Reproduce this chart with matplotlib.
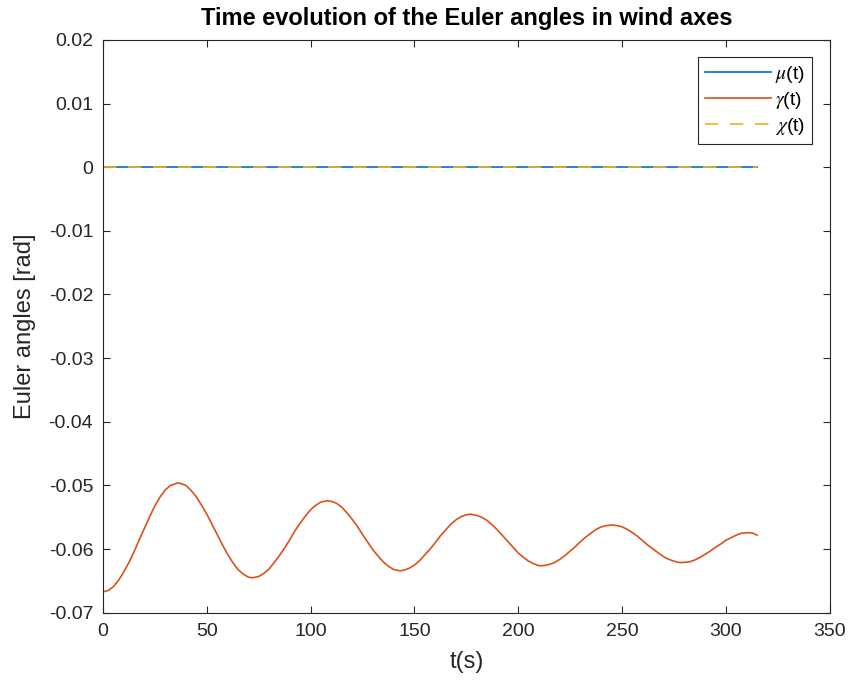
import matplotlib
matplotlib.use("Agg")
import matplotlib.pyplot as plt
import numpy as np

plt.rcParams['font.family'] = ['Liberation Sans', 'DejaVu Sans']
plt.rcParams['mathtext.fontset'] = 'stix'

# time (s) and gamma(t) [rad]
t = [0, 2.5, 5, 7.5, 10, 12.5, 15, 17.5, 20, 22.5, 25, 27.5, 30, 32.5, 36,
     37.5, 40, 42.5, 45, 47.5, 50, 52.5, 55, 57.5, 60, 62.5, 65, 67.5, 70, 72,
     75, 77.5, 80, 82.5, 85, 87.5, 90, 92.5, 95, 97.5, 100, 102.5, 105, 108,
     110, 112.5, 115, 117.5, 120, 122.5, 125, 127.5, 130, 132.5, 135, 137.5, 140, 143,
     145, 147.5, 150, 152.5, 155, 157.5, 160, 162.5, 165, 167.5, 170, 172.5, 175, 177,
     180, 182.5, 185, 187.5, 190, 192.5, 195, 197.5, 200, 202.5, 205, 207.5, 210, 212,
     215, 217.5, 220, 222.5, 225, 227.5, 230, 232.5, 235, 237.5, 240, 242.5, 245,
     247.5, 250, 252.5, 255, 257.5, 260, 262.5, 265, 267.5, 270, 272.5, 275, 277.5, 279,
     282.5, 285, 287.5, 290, 292.5, 295, 297.5, 300, 302.5, 305, 307.5, 311, 313, 315]
gamma = [-0.0667, -0.0665, -0.0659, -0.0649, -0.0636, -0.0621, -0.0604, -0.0585,
         -0.0567, -0.0549, -0.0532, -0.0518, -0.0507, -0.0500, -0.0496,
         -0.0497, -0.0500, -0.0508, -0.0518, -0.0531, -0.0545, -0.0561, -0.0577,
         -0.0593, -0.0608, -0.0621, -0.0632, -0.0639, -0.0644, -0.0645,
         -0.0643, -0.0638, -0.0631, -0.0621, -0.0610, -0.0598, -0.0585, -0.0571,
         -0.0559, -0.0548, -0.0538, -0.0531, -0.0526, -0.0524,
         -0.0525, -0.0528, -0.0534, -0.0543, -0.0553, -0.0564, -0.0577, -0.0589,
         -0.0601, -0.0611, -0.0620, -0.0627, -0.0632, -0.0634,
         -0.0633, -0.0630, -0.0625, -0.0618, -0.0609, -0.0600, -0.0590, -0.0579,
         -0.0570, -0.0561, -0.0554, -0.0549, -0.0546, -0.0545,
         -0.0547, -0.0550, -0.0555, -0.0562, -0.0570, -0.0579, -0.0588, -0.0597,
         -0.0606, -0.0613, -0.0619, -0.0623, -0.0626, -0.0626,
         -0.0624, -0.0621, -0.0616, -0.0610, -0.0603, -0.0596, -0.0588, -0.0581,
         -0.0575, -0.0569, -0.0565, -0.0563, -0.0562,
         -0.0563, -0.0565, -0.0569, -0.0574, -0.0580, -0.0587, -0.0594, -0.0600,
         -0.0606, -0.0612, -0.0616, -0.0619, -0.0621, -0.0621,
         -0.0620, -0.0617, -0.0613, -0.0608, -0.0603, -0.0597, -0.0592, -0.0586,
         -0.0582, -0.0578, -0.0575, -0.0574, -0.0575, -0.0578]
mu = [0.0] * len(t)
chi = [0.0] * len(t)

fig = plt.figure(figsize=(8.51, 6.87), dpi=100)
ax = fig.add_axes([0.121, 0.108, 0.854, 0.834])

ax.plot(t, mu, color='#0072BD', lw=1.2, label=r'$\mu$(t)')
ax.plot(t, gamma, color='#D95319', lw=1.2, label=r'$\gamma$(t)')
ax.plot(t, chi, color='#EDB120', lw=1.2, ls=(0, (8, 7)), label=r'$\chi$(t)')

ax.set_xlim(0, 350)
ax.set_ylim(-0.07, 0.02)
ax.set_xticks(np.arange(0, 351, 50))
ax.set_yticks(np.arange(-0.07, 0.0201, 0.01))
ax.set_yticklabels(['-0.07', '-0.06', '-0.05', '-0.04', '-0.03', '-0.02', '-0.01', '0', '0.01', '0.02'])
ax.tick_params(direction='in', top=True, right=True, length=5, width=0.8,
               labelsize=14, colors='#262626', pad=7)
for s in ax.spines.values():
    s.set_color('#262626')
    s.set_linewidth(0.8)

ax.set_xlabel('t(s)', fontsize=17, color='#262626', labelpad=8)
ax.set_ylabel('Euler angles [rad]', fontsize=17, color='#262626', labelpad=9)
ax.set_title('Time evolution of the Euler angles in wind axes', fontsize=17,
             fontweight='bold', color='black', pad=11)

leg = ax.legend(loc='upper right', fontsize=14, fancybox=False, framealpha=1,
                edgecolor='#262626', handlelength=3.4, borderaxespad=0.9,
                handletextpad=0.2, labelspacing=0.25, borderpad=0.35)
leg.get_frame().set_linewidth(0.8)

fig.savefig('out.png', dpi=100)
